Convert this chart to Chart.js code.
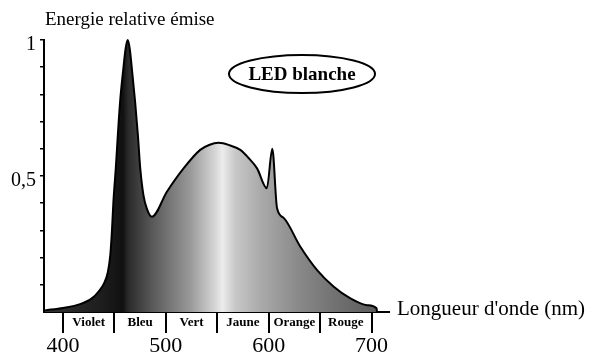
<!DOCTYPE html>
<html>
<head>
<meta charset="utf-8">
<script src="https://cdn.jsdelivr.net/npm/chart.js@4.4.0/dist/chart.umd.min.js"></script>
<style>
html,body{margin:0;padding:0;background:#fff;}
#wrap{width:600px;height:354px;position:relative;}
</style>
</head>
<body>
<div id="wrap"><canvas id="c" width="600" height="354"></canvas></div>
<script>
// ---- data ----
const wavelengths = [382.5, 400, 416.6, 428, 435, 440, 443.5, 446, 447.6, 449, 451.3, 453.3, 455.5, 458.7, 461, 463, 465, 466.9, 470.1, 472.8, 475.1, 478.2, 481.5, 486.4,
  501, 517.2, 533.4, 542, 551.3, 562, 572.4, 580, 588.7, 598.2, 603.5, 608.1, 614.6, 630.8, 647.1, 663.3, 679.5, 695.8, 704.9, 705.3];
const energy = [0.006, 0.015, 0.029, 0.05, 0.077, 0.106, 0.145, 0.21, 0.3, 0.405, 0.528, 0.65, 0.773, 0.896, 0.972, 1.0, 0.965, 0.896, 0.773, 0.65, 0.528, 0.43, 0.38, 0.35,
  0.442, 0.528, 0.596, 0.614, 0.622, 0.613, 0.596, 0.568, 0.528, 0.455, 0.6, 0.382, 0.346, 0.24, 0.154, 0.093, 0.05, 0.025, 0.0135, 0];
const xTickValues = [400, 450, 500, 550, 600, 650, 700];
const xLabelValues = [400, 500, 600, 700];
const yTickValues = [0.1, 0.2, 0.3, 0.4, 0.5, 0.6, 0.7, 0.8, 0.9, 1.0];
const yLabels = {"0.5": "0,5", "1": "1"};
const bandBounds = [400, 450, 500, 550, 600, 650, 700];
const bandNames = ["Violet", "Bleu", "Vert", "Jaune", "Orange", "Rouge"];
const yTitle = "Energie relative émise";
const xTitle = "Longueur d'onde (nm)";
const badge = "LED blanche";

const X_MIN = 381.5, X_MAX = 717;
const SERIF = "'Liberation Serif', 'DejaVu Serif', serif";

// gradient stops (wavelength -> grey)
const gradStops = [
  [381.5, '#333333'], [436, '#1e1e1e'], [458.4, '#111111'], [463.3, '#2a2a2a'],
  [484.7, '#555555'], [523.7, '#999999'], [548, '#d6d6d6'], [555, '#ececec'],
  [567.5, '#c8c8c8'], [592, '#aaaaaa'], [631, '#888888'], [670, '#6e6e6e'], [705, '#5c5c5c'], [717, '#5c5c5c']
];

const points = wavelengths.map((w, i) => ({x: w, y: energy[i]}));

const decor = {
  id: 'decor',
  afterDraw(chart) {
    const ctx = chart.ctx;
    const xs = chart.scales.x;
    ctx.save();
    ctx.fillStyle = '#000';
    ctx.strokeStyle = '#000';
    // band labels
    ctx.font = "bold 13px " + SERIF;
    ctx.textAlign = 'center';
    ctx.textBaseline = 'middle';
    for (let i = 0; i < bandNames.length; i++) {
      const cx = xs.getPixelForValue((bandBounds[i] + bandBounds[i + 1]) / 2);
      ctx.fillText(bandNames[i], cx, 323);
    }
    // axis titles
    ctx.font = "19px " + SERIF;
    ctx.textAlign = 'left';
    ctx.fillText(yTitle, 45, 20);
    ctx.font = "21px " + SERIF;
    ctx.fillText(xTitle, 397, 309);
    // badge
    const bx = 302, by = 74;
    ctx.lineWidth = 2;
    ctx.beginPath();
    ctx.ellipse(bx, by, 73, 19, 0, 0, Math.PI * 2);
    ctx.stroke();
    ctx.font = "bold 19px " + SERIF;
    ctx.textAlign = 'center';
    ctx.fillText(badge, bx, by + 1);
    ctx.restore();
  }
};

new Chart(document.getElementById('c'), {
  type: 'line',
  data: {
    datasets: [{
      data: points,
      borderColor: '#000',
      borderWidth: 2,
      pointRadius: 0,
      cubicInterpolationMode: 'monotone',
      fill: 'origin',
      clip: false,
      backgroundColor: (c) => {
        const chart = c.chart;
        const area = chart.chartArea;
        if (!area) return '#888';
        const g = chart.ctx.createLinearGradient(area.left, 0, area.right, 0);
        gradStops.forEach(([w, col]) => {
          g.addColorStop(Math.min(1, Math.max(0, (w - X_MIN) / (X_MAX - X_MIN))), col);
        });
        return g;
      }
    }]
  },
  options: {
    responsive: false,
    animation: false,
    layout: {padding: {top: 40, right: 211, left: 0, bottom: 0}},
    plugins: {legend: {display: false}, tooltip: {enabled: false}, title: {display: false}},
    scales: {
      x: {
        type: 'linear',
        min: X_MIN, max: X_MAX,
        afterBuildTicks: (s) => { s.ticks = xTickValues.map(v => ({value: v})); },
        afterFit: (s) => { s.height = 42; },
        border: {display: true, color: '#000', width: 2},
        grid: {drawOnChartArea: false, drawTicks: true, tickLength: 21, color: '#000', lineWidth: 2},
        ticks: {
          color: '#000', padding: 0, maxRotation: 0, autoSkip: false,
          font: {family: SERIF, size: 22},
          callback: (v) => xLabelValues.includes(v) ? String(v) : ''
        }
      },
      y: {
        min: 0, max: 1,
        afterBuildTicks: (s) => { s.ticks = yTickValues.map(v => ({value: v})); },
        afterFit: (s) => { s.width = 44; },
        border: {display: true, color: '#000', width: 2},
        grid: {drawOnChartArea: false, drawTicks: true, tickLength: 4, color: '#000', lineWidth: 1.5},
        ticks: {
          color: '#000', padding: 4, labelOffset: 5, autoSkip: false,
          font: {family: SERIF, size: 20},
          callback: (v) => yLabels[String(Math.round(v * 10) / 10)] || ''
        }
      }
    }
  },
  plugins: [decor]
});
</script>
</body>
</html>
